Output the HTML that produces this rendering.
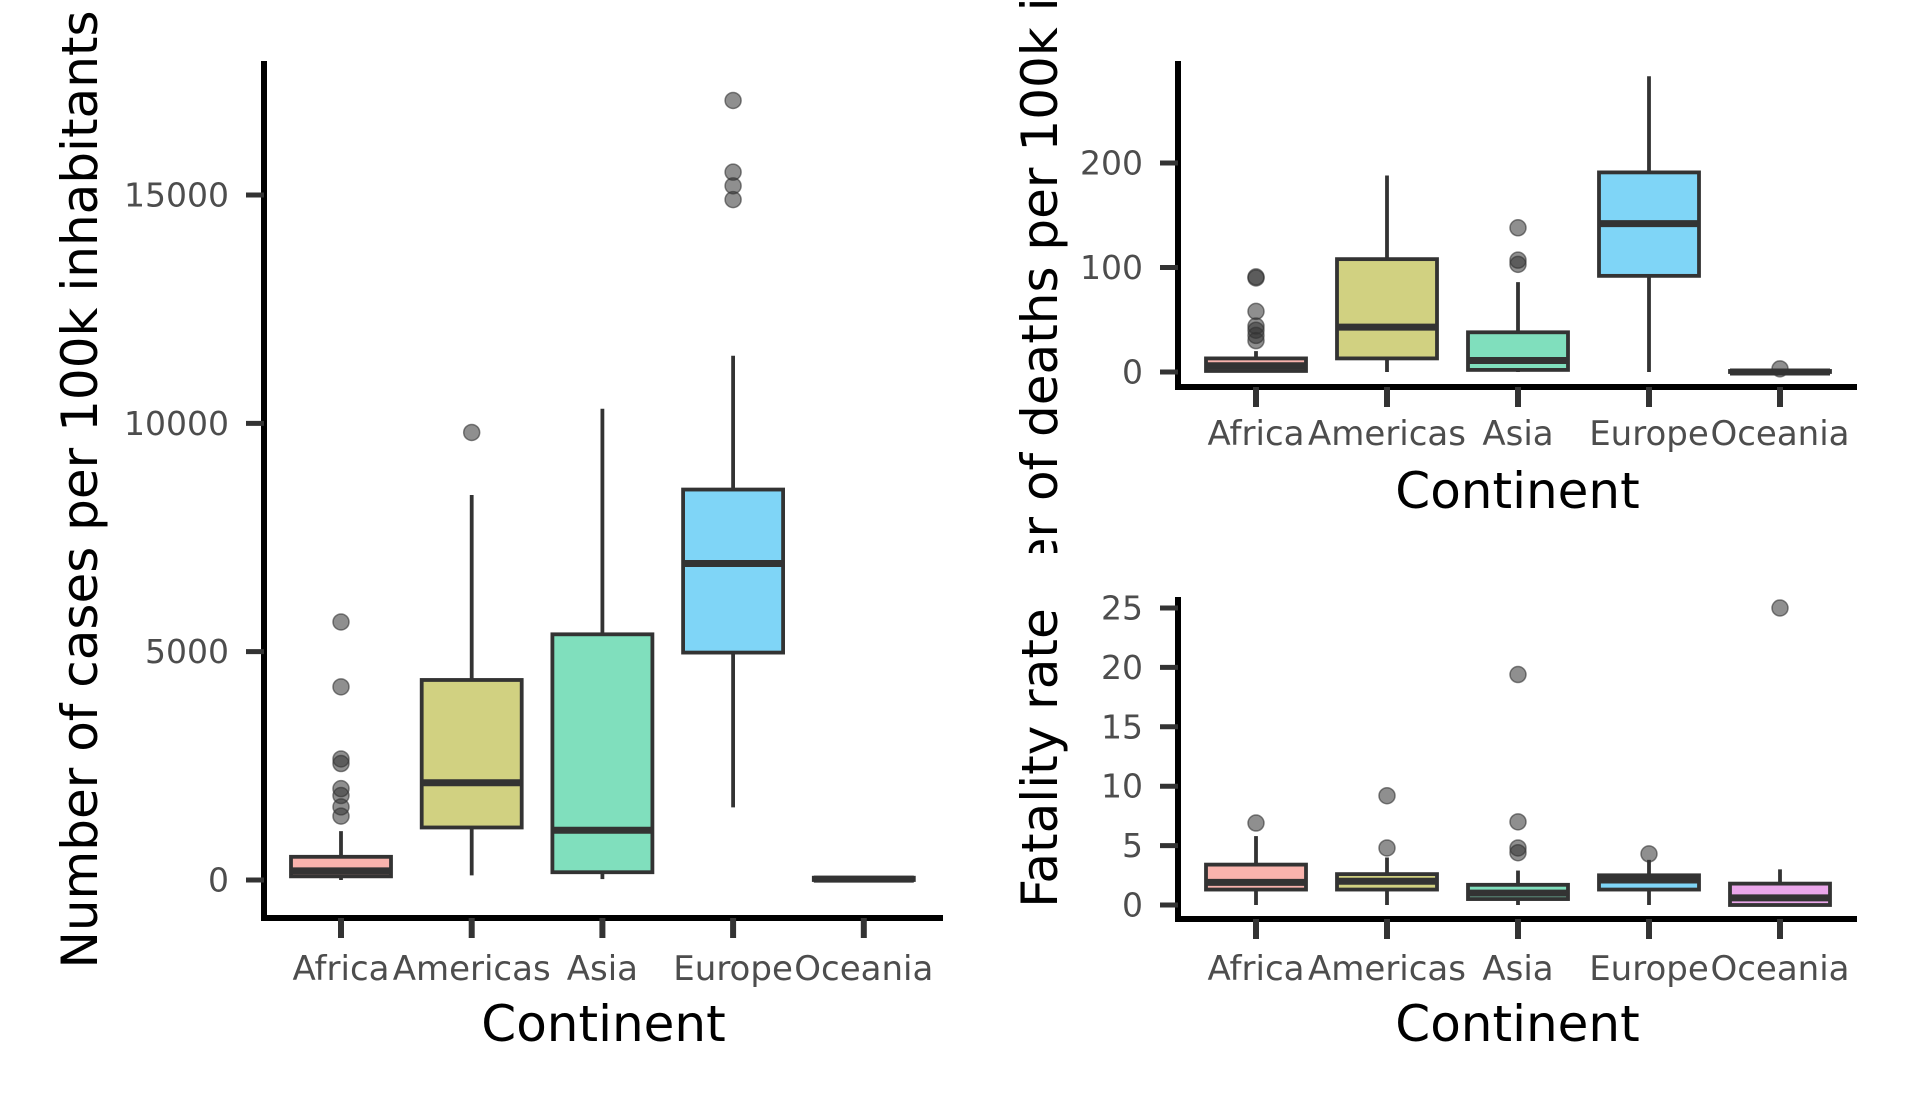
<!DOCTYPE html>
<html><head><meta charset="utf-8"><style>
html,body{margin:0;padding:0;background:#fff}
svg{display:block}
text{font-family:"DejaVu Sans","Liberation Sans",sans-serif}
</style></head><body>
<svg id="c" width="1915" height="1109" viewBox="0 0 1915 1109">
<defs>
<clipPath id="clipTop"><rect x="1000" y="0" width="915" height="553"/></clipPath>
</defs>
</svg>
<script>
const categories = ["Africa","Americas","Asia","Europe","Oceania"];
const colors = ["#f9b3ad","#d1d181","#80dfbd","#7fd5f7","#eaa7ea"];
// [lowWhisker, q1, median, q3, highWhisker]
const casesStats = [[0,80,200,508,1070],[100,1150,2130,4380,8430],[20,170,1090,5380,10320],[1590,4980,6930,8550,11480],[0,0,20,50,60]];
const casesOutliers = [[5650,4230,2650,2550,2000,1850,1600,1400],[9800],[],[17070,15500,15200,14900],[]];
const casesTicks = [0,5000,10000,15000];
const deathsStats = [[0,1,6,13,20],[0,13,43,108,188],[0,2,11,38,86],[0,92,142,191,283],[0,0,0,1,1]];
const deathsOutliers = [[91,90,58,44,40,35,30],[],[138,107,103],[],[3]];
const deathsTicks = [0,100,200];
const fatalStats = [[0,1.3,1.9,3.4,5.8],[0,1.3,2.0,2.6,4.0],[0,0.5,1.0,1.7,2.9],[0,1.3,2.1,2.5,3.8],[0,0,0.6,1.8,3.0]];
const fatalOutliers = [[6.9],[9.2,4.8],[19.4,7.0,4.8,4.4],[4.3],[25]];
const fatalTicks = [0,5,10,15,20,25];

const NS="http://www.w3.org/2000/svg";
const svg=document.getElementById('c');
function mk(tag,attrs,parent,txt){const e=document.createElementNS(NS,tag);for(const k in attrs)e.setAttribute(k,attrs[k]);if(txt!==undefined)e.textContent=txt;(parent||svg).appendChild(e);return e;}

function panel(p){
  const g=mk('g',{},svg);
  
  
  const y=v=>p.y0+(v-p.v0)*(p.y1-p.y0)/(p.v1-p.v0);
  const x=i=>p.xc0+i*p.xstep;
  categories.forEach((c,i)=>{
    const s=p.stats[i], cx=x(i), hw=50;
    const bg=mk('g',{},g);
    
    
    mk('line',{x1:cx,x2:cx,y1:y(s[0]),y2:y(s[1]),stroke:'#333','stroke-width':3.8},bg);
    mk('line',{x1:cx,x2:cx,y1:y(s[3]),y2:y(s[4]),stroke:'#333','stroke-width':3.8},bg);
    mk('rect',{x:cx-hw,y:y(s[3]),width:2*hw,height:Math.max(y(s[1])-y(s[3]),0.5),fill:colors[i],stroke:'#333','stroke-width':3.8},bg);
    mk('line',{x1:cx-hw,x2:cx+hw,y1:y(s[2]),y2:y(s[2]),stroke:'#333','stroke-width':7},bg);
    p.outl[i].forEach(v=>{
      const o=mk('circle',{cx:cx,cy:y(v),r:8,fill:'#333','fill-opacity':0.55,stroke:'#333','stroke-opacity':0.6,'stroke-width':1.5},bg);
      
      
    });
  });
  const ya=mk('line',{x1:p.ax,x2:p.ax,y1:p.top,y2:p.bot+3,stroke:'#000','stroke-width':6},g);
  
  
  const xa=mk('line',{x1:p.ax-3,x2:p.right,y1:p.bot,y2:p.bot,stroke:'#000','stroke-width':6},g);
  
  
  p.ticks.forEach(t=>{
    mk('line',{x1:p.ax-18,x2:p.ax,y1:y(t),y2:y(t),stroke:'#333','stroke-width':5},g);
    const tl=mk('text',{x:p.ax-35,y:y(t),'text-anchor':'end','dominant-baseline':'central','font-size':33,fill:'#4d4d4d'},g,String(t));
    
    
  });
  categories.forEach((c,i)=>{
    mk('line',{x1:x(i),x2:x(i),y1:p.bot,y2:p.bot+20,stroke:'#333','stroke-width':6},g);
    const cl=mk('text',{x:x(i),y:p.catY,'text-anchor':'middle','font-size':34,fill:'#4d4d4d'},g,c);
    
    
  });
  const xt=mk('text',{x:(p.ax+p.right)/2,y:p.titleY,'text-anchor':'middle','font-size':50,fill:'#000'},g,'Continent');
  
  
  const yg=mk('g',p.clip?{'clip-path':'url(#'+p.clip+')'}:{},g);
  const yt=mk('text',{x:0,y:0,'text-anchor':'middle','dominant-baseline':'central','font-size':50,fill:'#000',transform:`translate(${p.ytx},${(p.top+p.bot)/2}) rotate(-90)`},yg,p.ytitle);
  
  
}

panel({name:'cases-panel',stats:casesStats,outl:casesOutliers,ticks:casesTicks,v0:0,v1:15000,y0:880,y1:195,
  ax:264,top:61,bot:918,right:943,xc0:341,xstep:130.7,catY:980,titleY:1041,ytx:80,ytitle:'Number of cases per 100k inhabitants'});
panel({name:'deaths-panel',stats:deathsStats,outl:deathsOutliers,ticks:deathsTicks,v0:0,v1:200,y0:372,y1:163,
  ax:1178,top:61,bot:387,right:1857,xc0:1256,xstep:131,catY:445,titleY:508,ytx:1040,clip:'clipTop',ytitle:'Number of deaths per 100k inhabitants'});
panel({name:'fatality-panel',stats:fatalStats,outl:fatalOutliers,ticks:fatalTicks,v0:0,v1:25,y0:905,y1:608,
  ax:1178,top:597,bot:919,right:1857,xc0:1256,xstep:131,catY:980,titleY:1041,ytx:1040,ytitle:'Fatality rate'});
</script>
</body></html>
